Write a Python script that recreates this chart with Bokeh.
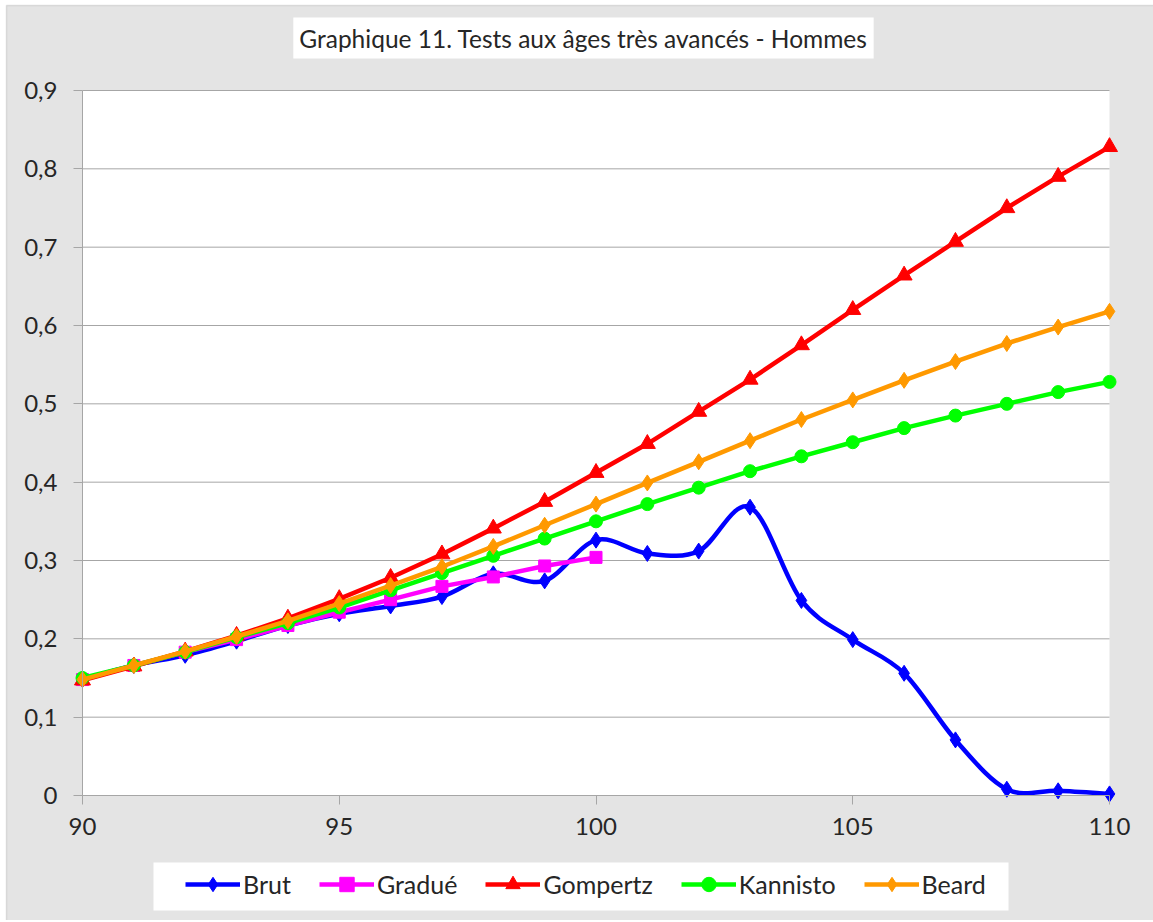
from bokeh.plotting import figure
from bokeh.models import (Range1d, FixedTicker, CustomJSTickFormatter, Legend, LegendItem,
                          ColumnDataSource, BoxAnnotation, Label)
from bokeh.embed import file_html
from bokeh.resources import INLINE

# ---------------- data ----------------
ages = list(range(90, 111))
brut = [0.148, 0.166, 0.179, 0.197, 0.217, 0.232, 0.242, 0.254, 0.283, 0.274, 0.326,
        0.309, 0.312, 0.368, 0.249, 0.199, 0.156, 0.071, 0.008, 0.006, 0.002]
gradue_ages = list(range(90, 101))
gradue = [0.148, 0.166, 0.183, 0.199, 0.217, 0.234, 0.250, 0.267, 0.279, 0.293, 0.304]
gompertz = [0.147, 0.165, 0.184, 0.204, 0.226, 0.251, 0.278, 0.308, 0.341, 0.375, 0.412,
            0.449, 0.490, 0.531, 0.575, 0.620, 0.664, 0.707, 0.750, 0.790, 0.828]
kannisto = [0.150, 0.166, 0.183, 0.202, 0.220, 0.240, 0.262, 0.284, 0.306, 0.328, 0.350,
            0.372, 0.393, 0.414, 0.433, 0.451, 0.469, 0.485, 0.500, 0.515, 0.528]
beard = [0.148, 0.166, 0.184, 0.203, 0.223, 0.245, 0.268, 0.292, 0.318, 0.345, 0.372,
         0.399, 0.426, 0.453, 0.480, 0.505, 0.530, 0.554, 0.577, 0.598, 0.618]
x_ticks = [90, 95, 100, 105, 110]
y_ticks = [0, 0.1, 0.2, 0.3, 0.4, 0.5, 0.6, 0.7, 0.8, 0.9]
title_text = "Graphique 11. Tests aux âges très avancés - Hommes"
series_names = ["Brut", "Gradué", "Gompertz", "Kannisto", "Beard"]

FONT = "Lato"
BG = "#e4e4e4"
GRID = "#a6a6a6"
TXT = "#262626"

# pixel layout: the frame fills the canvas; the plot area (90..110 x 0..0.9)
# spans pixels 82..1109 horizontally and 90..795 vertically
W, H = 1153, 920
PX_X = 1027 / 20.0
PX_Y = 705 / 0.9
X_LO = 90 - 82 / PX_X
X_HI = 110 + (W - 1109) / PX_X
Y_LO = -(H - 795) / PX_Y
Y_HI = 0.9 + 90 / PX_Y


def px_x(px):
    return X_LO + px / PX_X


def px_y(py):
    return (795 - py) / PX_Y


p = figure(output_backend="svg", toolbar_location=None,
           x_range=Range1d(X_LO, X_HI), y_range=Range1d(Y_LO, Y_HI),
           frame_width=W, frame_height=H,
           min_border_left=0, min_border_right=0, min_border_top=0, min_border_bottom=0)
p.background_fill_color = "white"
p.border_fill_color = "white"
p.outline_line_color = None

# grey chart area with its border line
p.add_layout(BoxAnnotation(left=px_x(6), right=px_x(W + 20), top=px_y(5), bottom=px_y(H + 20),
                           fill_color=BG, fill_alpha=1.0, line_color="#a0a0a0", line_width=1.5,
                           level="image"))
# white plot area
p.add_layout(BoxAnnotation(left=x_ticks[0], right=x_ticks[-1], bottom=y_ticks[0], top=y_ticks[-1],
                           fill_color="white", fill_alpha=1.0, line_color=None, level="image"))
# white legend backdrop
p.add_layout(BoxAnnotation(left=px_x(153), right=px_x(1008), top=px_y(862), bottom=px_y(910),
                           fill_color="white", fill_alpha=1.0, line_color=None, level="image"))

# horizontal gridlines limited to the plot area
p.xgrid.grid_line_color = None
p.ygrid.grid_line_color = None
p.segment(x0=[x_ticks[0]] * len(y_ticks), x1=[x_ticks[-1]] * len(y_ticks), y0=y_ticks, y1=y_ticks,
          line_color=GRID, line_width=1, level="underlay")

# axes
p.xaxis.ticker = FixedTicker(ticks=x_ticks)
p.xaxis.fixed_location = 0
p.xaxis.bounds = (x_ticks[0], x_ticks[-1])
p.yaxis.ticker = FixedTicker(ticks=y_ticks)
p.yaxis.fixed_location = x_ticks[0]
p.yaxis.bounds = (y_ticks[0], y_ticks[-1])
p.yaxis.formatter = CustomJSTickFormatter(
    code="if (Math.abs(tick) < 1e-9) { return '0'; } return tick.toFixed(1).replace('.', ',');")
for ax in (p.xaxis[0], p.yaxis[0]):
    ax.axis_line_color = GRID
    ax.major_tick_line_color = GRID
    ax.major_tick_out = 9
    ax.major_tick_in = 0
    ax.minor_tick_line_color = None
    ax.major_label_text_font = FONT
    ax.major_label_text_font_size = "24px"
    ax.major_label_text_color = TXT
p.xaxis.major_label_standoff = 13
p.yaxis.major_label_standoff = 16

# Brut: smoothed curve (Bezier segments with control points derived from the data)
n = len(ages)
x0, y0, x1, y1, cx0, cy0, cx1, cy1 = ([] for _ in range(8))
for i in range(n - 1):
    im1 = max(i - 1, 0)
    ip2 = min(i + 2, n - 1)
    x0.append(ages[i]); y0.append(brut[i])
    x1.append(ages[i + 1]); y1.append(brut[i + 1])
    cx0.append(ages[i] + (ages[i + 1] - ages[im1]) / 6.0)
    cy0.append(brut[i] + (brut[i + 1] - brut[im1]) / 6.0)
    cx1.append(ages[i + 1] - (ages[ip2] - ages[i]) / 6.0)
    cy1.append(brut[i + 1] - (brut[ip2] - brut[i]) / 6.0)
bez_src = ColumnDataSource(dict(x0=x0, y0=y0, x1=x1, y1=y1, cx0=cx0, cy0=cy0, cx1=cx1, cy1=cy1))
LW = 4.5
r_brut_l = p.bezier(x0="x0", y0="y0", x1="x1", y1="y1", cx0="cx0", cy0="cy0", cx1="cx1", cy1="cy1",
                    source=bez_src, line_color="#0000ff", line_width=LW)
r_brut_m = p.scatter(ages, brut, marker="diamond", size=16, color="#0000ff")

r_gr_l = p.line(gradue_ages, gradue, line_color="#ff00ff", line_width=LW)
r_gr_m = p.scatter(gradue_ages, gradue, marker="square", size=12, color="#ff00ff")

r_go_l = p.line(ages, gompertz, line_color="#ff0000", line_width=LW)
r_go_m = p.scatter(ages, gompertz, marker="triangle", size=16, color="#ff0000")

r_ka_l = p.line(ages, kannisto, line_color="#00ff00", line_width=LW)
r_ka_m = p.scatter(ages, kannisto, marker="circle", size=13, color="#00ff00")

r_be_l = p.line(ages, beard, line_color="#ff9900", line_width=LW)
r_be_m = p.scatter(ages, beard, marker="diamond", size=16, color="#ff9900")

items = [
    LegendItem(label=series_names[0], renderers=[r_brut_l, r_brut_m]),
    LegendItem(label=series_names[1], renderers=[r_gr_l, r_gr_m]),
    LegendItem(label=series_names[2], renderers=[r_go_l, r_go_m]),
    LegendItem(label=series_names[3], renderers=[r_ka_l, r_ka_m]),
    LegendItem(label=series_names[4], renderers=[r_be_l, r_be_m]),
]
legend = Legend(items=items, orientation="horizontal", location=(185, 18),
                glyph_width=55, glyph_height=36, label_standoff=3, spacing=28, padding=6,
                label_text_font=FONT, label_text_font_size="25px", label_text_color=TXT,
                background_fill_color="white", background_fill_alpha=1.0,
                border_line_color=None, margin=0)
p.add_layout(legend, "center")

# title in a white box
title = Label(x=99.756, y=0.967, text=title_text, text_align="center", text_baseline="middle",
              text_font=FONT, text_font_size="24.5px", text_color=TXT,
              background_fill_color="white", padding=6)
p.add_layout(title)

open("out.html", "w").write(file_html(p, INLINE))
